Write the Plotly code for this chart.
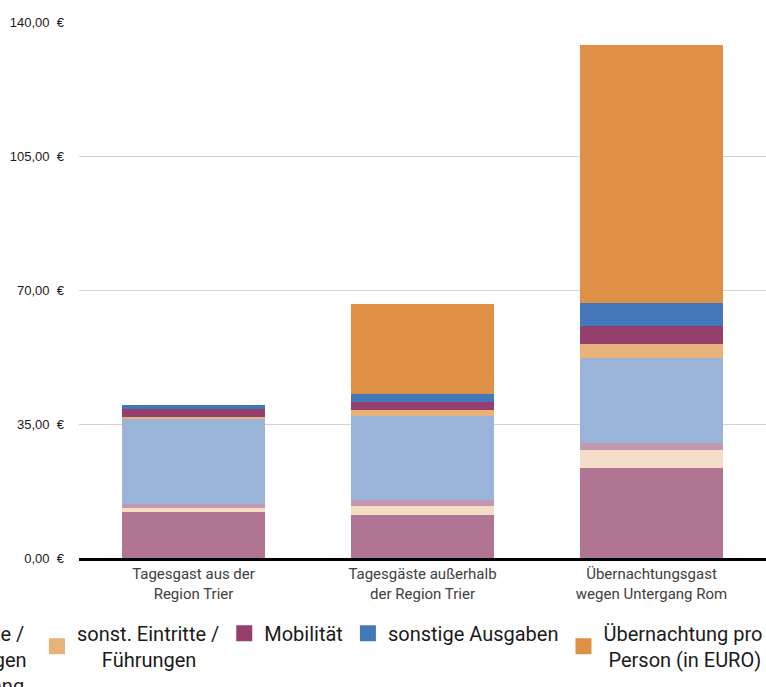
import plotly.graph_objects as go

# Categories (x axis)
categories = [
    "Tagesgast aus der<br>Region Trier",
    "Tagesgäste außerhalb<br>der Region Trier",
    "Übernachtungsgast<br>wegen Untergang Rom",
]

# Spending per person in EUR, stacked bottom -> top
gastronomie = [12.0, 11.2, 23.5]
einkaeufe = [1.1, 2.4, 4.7]
souvenirs = [1.0, 1.6, 1.8]
eintritte_untergang = [22.1, 21.8, 22.2]
sonst_eintritte = [0.6, 1.7, 3.7]
mobilitaet = [2.1, 2.1, 4.8]
sonstige_ausgaben = [1.0, 2.1, 5.9]
uebernachtung = [0.0, 23.5, 67.4]

NB = "\u00a0"
series_names = [
    "Gastronomie /<br>Verpflegung",
    "Einkäufe /<br>Einzelhandel",
    "Souvenirs /<br>Museumsshop",
    NB * 2 + "Eintritte /<br>Führungen<br>Untergang",
    "sonst. Eintritte /<br>" + NB * 5 + "Führungen",
    "Mobilität",
    "sonstige Ausgaben",
    "Übernachtung pro<br>" + NB + "Person (in EURO)",
]
series_values = [
    gastronomie, einkaeufe, souvenirs, eintritte_untergang,
    sonst_eintritte, mobilitaet, sonstige_ausgaben, uebernachtung,
]
colors = [
    "#AF7593", "#F5DCC6", "#C598B2", "#9AB4D9",
    "#E7B37B", "#953F6D", "#4478BA", "#DE9046",
]
legend_ids = ["legend", "legend", "legend", "legend2",
              "legend3", "legend3", "legend3", "legend3"]

# y axis ticks
y_ticks = [0, 35, 70, 105, 140]
y_ticktext = ["0,00" + NB * 2 + "€", "35,00" + NB * 2 + "€", "70,00" + NB * 2 + "€",
              "105,00" + NB * 2 + "€", "140,00" + NB * 2 + "€"]

fig = go.Figure()

for name, vals, col in zip(series_names, series_values, colors):
    fig.add_trace(go.Bar(
        x=categories, y=vals, name=name,
        marker=dict(color=col, line=dict(width=0)),
        showlegend=False,
    ))

# Legend entries with larger square swatches
for name, col, lg in zip(series_names, colors, legend_ids):
    fig.add_trace(go.Scatter(
        x=[None], y=[None], mode="markers", name=name,
        marker=dict(symbol="square", size=16, color=col, line=dict(width=0)),
        legend=lg, showlegend=True,
    ))

legend_font = dict(family="Roboto, Liberation Sans, sans-serif", size=20, color="#1a1a1a")
legend_common = dict(
    orientation="h", yanchor="top", y=-0.104,
    font=legend_font, bgcolor="rgba(0,0,0,0)", borderwidth=0,
    valign="middle", itemclick=False, itemdoubleclick=False,
)

# The legend row is wider than the figure; its first entries run past the left edge
fig.update_layout(
    width=766, height=687,
    margin=dict(l=79, r=0, t=22, b=129, autoexpand=False),
    paper_bgcolor="white", plot_bgcolor="white",
    barmode="stack", bargap=0.375,
    font=dict(family="Roboto, Liberation Sans, sans-serif"),
    legend=dict(x=(-120 - 79) / 687, xanchor="right", **legend_common),
    legend2=dict(x=(32 - 79) / 687, xanchor="right", **legend_common),
    legend3=dict(x=(37 - 79) / 687, xanchor="left", **legend_common),
    xaxis=dict(
        type="category", showline=True, linecolor="black", linewidth=3,
        ticks="", showgrid=False,
        tickfont=dict(family="Roboto, Liberation Sans, sans-serif", size=15, color="#404040"),
    ),
    yaxis=dict(
        range=[0, 140], tickvals=y_ticks, ticktext=y_ticktext,
        showgrid=True, gridcolor="#d4d4d4", gridwidth=1, zeroline=False,
        showline=False, ticks="", ticklabelstandoff=14,
        tickfont=dict(family="Liberation Sans, Arial, sans-serif", size=13, color="#1a1a1a"),
    ),
    hovermode=False,
)

fig.write_html("out.html", config={"displayModeBar": False})
